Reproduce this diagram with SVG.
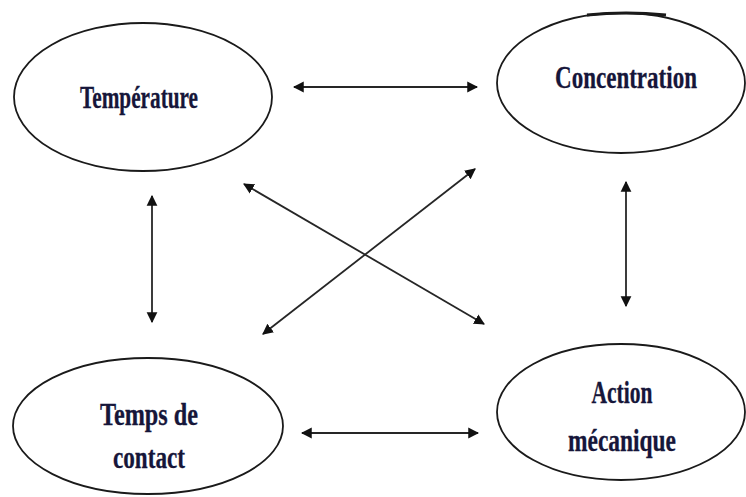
<svg xmlns="http://www.w3.org/2000/svg" width="746" height="497" viewBox="0 0 746 497">
  <style>
    .node ellipse { fill: #ffffff; stroke: #1a1a1a; stroke-width: 1.8; }
    .label { font-family: "Liberation Serif", "Times New Roman", serif; font-weight: bold; font-size: 31px; fill: #16163a; stroke: #16163a; stroke-width: 0.3; text-anchor: middle; }
    .link { stroke: #262626; stroke-width: 1.8; fill: none; marker-start: url(#head); marker-end: url(#head); }
  </style>
  <defs>
    <marker id="head" viewBox="0 0 10 10" refX="9" refY="5" markerWidth="6" markerHeight="6.5" orient="auto-start-reverse" markerUnits="strokeWidth">
      <path d="M0,0 L10,5 L0,10 Z" fill="#111111"/>
    </marker>
  </defs>

  <rect width="746" height="497" fill="#ffffff"/>

  <!-- two-way connectors between the four factors -->
  <g id="connectors">
    <line class="link" x1="294" y1="87" x2="477" y2="87"/>
    <line class="link" x1="302" y1="433" x2="478" y2="433"/>
    <line class="link" x1="152" y1="196" x2="152" y2="322"/>
    <line class="link" x1="626" y1="182" x2="626" y2="306"/>
    <line class="link" x1="244" y1="184" x2="484" y2="324"/>
    <line class="link" x1="475" y1="169" x2="263" y2="334"/>
  </g>

  <g id="temperature" class="node">
    <ellipse cx="143" cy="97" rx="129" ry="74"/>
    <text class="label" x="139" y="108" textLength="118" lengthAdjust="spacingAndGlyphs">Température</text>
  </g>

  <g id="concentration" class="node">
    <ellipse cx="621" cy="83" rx="124" ry="70"/>
    <path d="M587,15 Q626,11 666,15" fill="none" stroke="#1a1a1a" stroke-width="3"/>
    <text class="label" x="626" y="88" textLength="142" lengthAdjust="spacingAndGlyphs">Concentration</text>
  </g>

  <g id="temps-de-contact" class="node">
    <ellipse cx="148" cy="426" rx="135" ry="68"/>
    <text class="label" x="149" y="425" textLength="98" lengthAdjust="spacingAndGlyphs">Temps de</text>
    <text class="label" x="149" y="468" textLength="72" lengthAdjust="spacingAndGlyphs">contact</text>
  </g>

  <g id="action-mecanique" class="node">
    <ellipse cx="621" cy="412" rx="124" ry="68"/>
    <text class="label" x="622" y="403" textLength="61" lengthAdjust="spacingAndGlyphs">Action</text>
    <text class="label" x="622" y="451" textLength="108" lengthAdjust="spacingAndGlyphs">mécanique</text>
  </g>
</svg>
